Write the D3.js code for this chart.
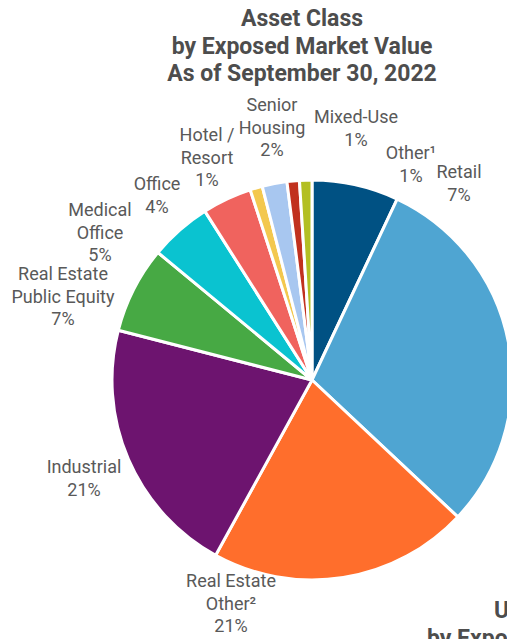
<!DOCTYPE html>
<html>
<head>
<meta charset="utf-8">
<script src="https://cdn.jsdelivr.net/npm/d3@7"></script>
<style>
  html, body { margin: 0; padding: 0; background: #ffffff; }
  svg { display: block; font-family: Roboto, "Noto Sans", sans-serif; }
</style>
</head>
<body>
<svg id="chart" width="507" height="639"></svg>
<script>
// Asset class breakdown, clockwise from 12 o'clock
const categories = ["Retail", "Multifamily", "Real Estate Other²", "Industrial",
  "Real Estate Public Equity", "Medical Office", "Office", "Hotel / Resort",
  "Senior Housing", "Mixed-Use", "Other¹"];
const shares = [7, 30, 21, 21, 7, 5, 4, 1, 2, 1, 1];
const sliceColors = ["#005183", "#4fa5d2", "#ff6e2c", "#6d146f", "#47a944",
  "#0ac3d0", "#f0635e", "#f3c84e", "#a8c7f0", "#c1311e", "#b3bf22"];
const labelLines = [["Retail"], ["Multifamily"], ["Real Estate", "Other²"], ["Industrial"],
  ["Real Estate", "Public Equity"], ["Medical", "Office"], ["Office"], ["Hotel /", "Resort"],
  ["Senior", "Housing"], ["Mixed-Use"], ["Other¹"]];
// label placement: centre x, baseline of first line
const labelAnchors = [[459, 178], [551, 469], [231, 587], [84, 473], [63, 280],
  [100, 216], [157, 190], [207, 141], [272, 111], [356, 123], [411, 159]];
const titleLines = ["Asset Class", "by Exposed Market Value", "As of September 30, 2022"];
const nextTitleLines = ["U.S. Geography", "by Exposed Market Value"];

const svg = d3.select("#chart");
const cx = 312, cy = 380, radius = 200;

const data = categories.map((c, i) => ({ category: c, share: shares[i], color: sliceColors[i],
  lines: labelLines[i], anchor: labelAnchors[i] }));

const pie = d3.pie().sort(null).value(d => d.share).startAngle(0).endAngle(2 * Math.PI);
const arc = d3.arc().innerRadius(0).outerRadius(radius);

svg.append("g")
  .attr("transform", `translate(${cx},${cy})`)
  .selectAll("path")
  .data(pie(data))
  .join("path")
  .attr("d", arc)
  .attr("fill", d => d.data.color)
  .attr("stroke", "#ffffff")
  .attr("stroke-width", 3)
  .attr("stroke-linejoin", "round");

// slice labels: name lines then percentage
const lineH = 22.5;
const labels = svg.append("g")
  .attr("font-size", 18)
  .attr("fill", "#595959")
  .attr("text-anchor", "middle");

data.forEach(d => {
  const t = labels.append("text").attr("x", d.anchor[0]).attr("y", d.anchor[1]);
  const rows = d.lines.concat([d.share + "%"]);
  rows.forEach((r, j) => {
    t.append("tspan").attr("x", d.anchor[0]).attr("y", d.anchor[1] + j * lineH).text(r);
  });
});

// chart title
const title = svg.append("text")
  .attr("text-anchor", "middle")
  .attr("font-size", 23)
  .attr("font-weight", "bold")
  .attr("fill", "#4d4d4d");
titleLines.forEach((s, i) => {
  title.append("tspan").attr("x", 302).attr("y", 26 + i * 27.5).text(s);
});

// title of the neighbouring chart
const next = svg.append("g")
  .attr("font-size", 23)
  .attr("font-weight", "bold")
  .attr("fill", "#4d4d4d");
next.append("text").attr("x", 494).attr("y", 618).text(nextTitleLines[0]);
next.append("text").attr("x", 427).attr("y", 646).text(nextTitleLines[1]);
</script>
</body>
</html>
